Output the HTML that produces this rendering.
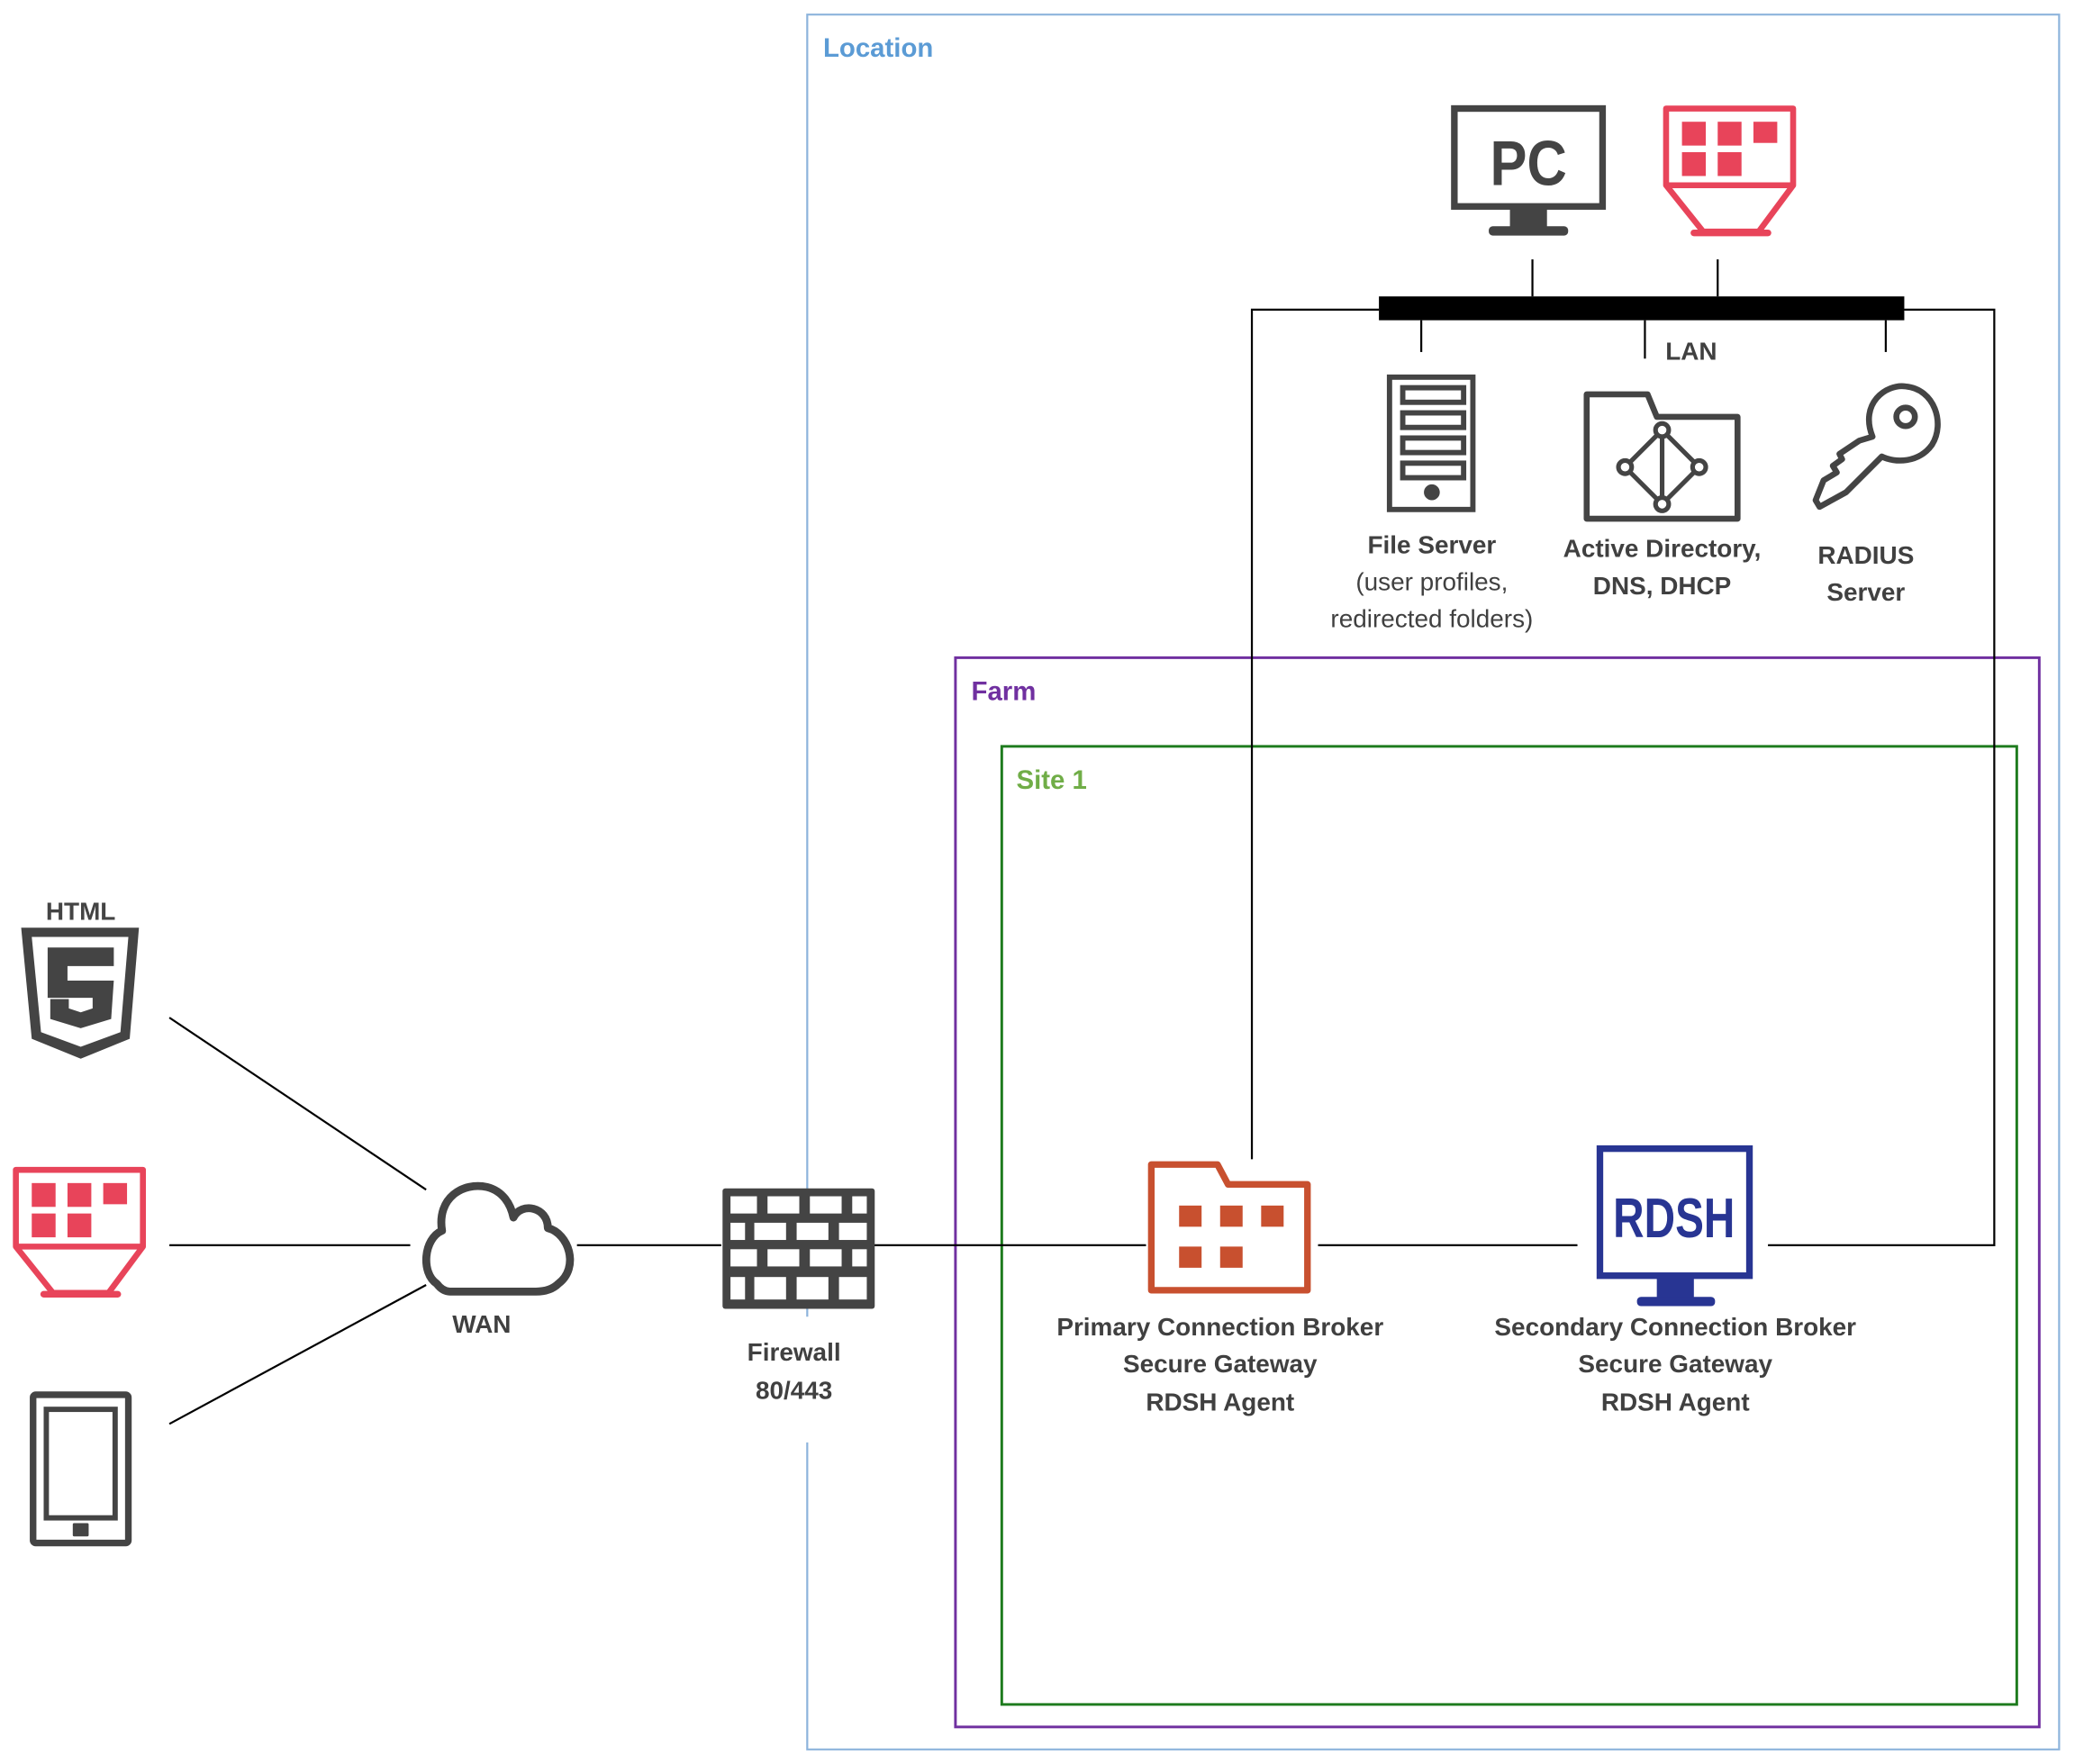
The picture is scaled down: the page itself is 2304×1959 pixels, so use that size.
<!DOCTYPE html>
<html><head><meta charset="utf-8"><style>
html,body{margin:0;padding:0;background:#fff;}
svg{display:block;}
text{font-family:"Liberation Sans",sans-serif;fill:#404040;}
.b{font-weight:bold;font-size:19px;}
.n{font-size:19px;}
</style></head><body>
<svg width="2304" height="1959" viewBox="0 0 1568 1333" preserveAspectRatio="none" xmlns="http://www.w3.org/2000/svg">
<defs>
<g id="tc">
<path d="M2,2 H98 V60 L72,95 H30 L2,60 Z" fill="none" stroke="#e8445a" stroke-width="4.5" stroke-linejoin="round"/>
<line x1="2" y1="60" x2="98" y2="60" stroke="#e8445a" stroke-width="4.5"/>
<line x1="23" y1="96" x2="79" y2="96" stroke="#e8445a" stroke-width="5" stroke-linecap="round"/>
<rect x="14" y="12" width="18" height="18" fill="#e8445a"/>
<rect x="41" y="12" width="18" height="18" fill="#e8445a"/>
<rect x="68" y="12" width="18" height="16" fill="#e8445a"/>
<rect x="14" y="35" width="18" height="18" fill="#e8445a"/>
<rect x="41" y="35" width="18" height="18" fill="#e8445a"/>
</g>
</defs>
<rect width="1568" height="1333" fill="#fff"/>
<path d="M610,995 V11 H1556 V1322 H610 V1090" fill="none" stroke="#8db4dc" stroke-width="1.5"/>
<text x="622" y="43" class="b" style="fill:#5b9bd5;font-size:20px">Location</text>
<rect x="722" y="497" width="819" height="808" fill="none" stroke="#7030a0" stroke-width="2"/>
<text x="734" y="529" class="b" style="fill:#7030a0;font-size:20px">Farm</text>
<rect x="757" y="564" width="767" height="724" fill="none" stroke="#1e7b1e" stroke-width="2"/>
<text x="768" y="596" class="b" style="fill:#70ad47;font-size:20px">Site 1</text>

<rect x="1042" y="224" width="397" height="18" fill="#000"/>
<g stroke="#000" stroke-width="1.5" fill="none">
<line x1="1158" y1="196" x2="1158" y2="224"/>
<line x1="1298" y1="196" x2="1298" y2="224"/>
<line x1="1074" y1="242" x2="1074" y2="266"/>
<line x1="1243" y1="242" x2="1243" y2="271"/>
<line x1="1425" y1="242" x2="1425" y2="266"/>
<polyline points="1042,234 946,234 946,876"/>
<polyline points="1439,234 1507,234 1507,941 1336,941"/>
<line x1="128" y1="769" x2="322" y2="899"/>
<line x1="128" y1="941" x2="310" y2="941"/>
<line x1="128" y1="1076" x2="322" y2="971"/>
<line x1="436" y1="941" x2="545" y2="941"/>
<line x1="660" y1="941" x2="866" y2="941"/>
<line x1="996" y1="941" x2="1192" y2="941"/>
</g>
<text x="1278" y="272" class="b" text-anchor="middle">LAN</text>

<rect x="1099" y="82" width="112" height="74" fill="none" stroke="#444" stroke-width="5"/>
<rect x="1141" y="156" width="28" height="16" fill="#444"/>
<rect x="1125" y="171" width="60" height="7" rx="3" fill="#444"/>
<text x="1155" y="140" text-anchor="middle" textLength="58" lengthAdjust="spacingAndGlyphs" style="font-weight:bold;font-size:48px;fill:#444;font-family:'Liberation Sans Narrow','Liberation Sans',sans-serif">PC</text>

<use href="#tc" x="1257" y="80"/>

<rect x="1050" y="285" width="63" height="100" fill="none" stroke="#444" stroke-width="4"/>
<g fill="none" stroke="#444" stroke-width="4">
<rect x="1060" y="293" width="46" height="11"/><rect x="1060" y="312" width="46" height="11"/>
<rect x="1060" y="331" width="46" height="11"/><rect x="1060" y="350" width="46" height="11"/>
</g>
<circle cx="1082" cy="372" r="6" fill="#444"/>
<text x="1082" y="418" class="b" text-anchor="middle">File Server</text>
<text x="1082" y="446" class="n" text-anchor="middle">(user profiles,</text>
<text x="1082" y="474" class="n" text-anchor="middle">redirected folders)</text>

<path d="M1199,298 H1245 L1252,315 H1313 V392 H1199 Z" fill="none" stroke="#444" stroke-width="4.5" stroke-linejoin="round"/>
<g fill="none" stroke="#444" stroke-width="3.5">
<path d="M1256,325 L1228,353 L1256,381 L1284,353 Z M1256,325 V381"/>
</g>
<g fill="#fff" stroke="#444" stroke-width="3.5">
<circle cx="1256" cy="325" r="5"/><circle cx="1228" cy="353" r="5"/><circle cx="1284" cy="353" r="5"/><circle cx="1256" cy="381" r="5"/>
</g>
<text x="1256" y="421" class="b" text-anchor="middle">Active Directory,</text>
<text x="1256" y="449" class="b" text-anchor="middle">DNS, DHCP</text>

<g fill="none" stroke="#444" stroke-width="4.5" stroke-linejoin="round">
<path d="M1415,330 C1405,305 1425,290 1440,292 C1462,294 1470,320 1460,336 C1450,350 1432,350 1422,345 L1395,372 L1375,383 L1372,378 L1378,363 L1388,357 L1385,352 L1392,347 L1390,343 L1405,333 Z"/>
<circle cx="1440" cy="315" r="7"/>
</g>
<text x="1410" y="426" class="b" text-anchor="middle">RADIUS</text>
<text x="1410" y="454" class="b" text-anchor="middle">Server</text>

<text x="61" y="695" text-anchor="middle" style="font-weight:bold;font-size:19px;fill:#444">HTML</text>
<path d="M16,701 H105 L98,785 L61,800 L24,785 Z" fill="#444"/>
<path d="M24,708 H97 L91,780 L61,791 L31,780 Z" fill="#fff"/>
<path d="M36,716 H86 V730 H51 V741 H86 L84,770 L61,777 L38,770 V755 H52 V762 L61,765 L70,762 V754 H36 Z" fill="#444"/>

<use href="#tc" x="10" y="882"/>

<rect x="25" y="1054" width="72" height="112" rx="2" fill="none" stroke="#444" stroke-width="5"/>
<rect x="35" y="1065" width="52" height="82" fill="none" stroke="#444" stroke-width="4"/>
<rect x="55" y="1151" width="12" height="10" rx="1" fill="#444"/>

<path d="M330,970 C318,962 320,936 334,930 C330,905 350,893 368,897 C380,900 386,910 388,920 C394,908 414,912 414,928 C430,932 438,958 422,970 C418,974 412,976 405,976 H340 C336,976 333,974 330,970 Z" fill="none" stroke="#444" stroke-width="6" stroke-linejoin="round"/>
<text x="364" y="1007" class="b" text-anchor="middle">WAN</text>

<rect x="546" y="898" width="115" height="91" fill="#444" rx="2"/>
<g fill="#fff">
<rect x="552" y="904" width="20" height="13"/><rect x="580" y="904" width="24" height="13"/><rect x="612" y="904" width="24" height="13"/><rect x="644" y="904" width="11" height="13"/>
<rect x="552" y="924" width="11" height="13"/><rect x="570" y="924" width="24" height="13"/><rect x="602" y="924" width="24" height="13"/><rect x="634" y="924" width="21" height="13"/>
<rect x="552" y="944" width="20" height="13"/><rect x="580" y="944" width="24" height="13"/><rect x="612" y="944" width="24" height="13"/><rect x="644" y="944" width="11" height="13"/>
<rect x="552" y="965" width="11" height="17"/><rect x="570" y="965" width="24" height="17"/><rect x="602" y="965" width="24" height="17"/><rect x="634" y="965" width="21" height="17"/>
</g>
<text x="600" y="1028" class="b" text-anchor="middle">Firewall</text>
<text x="600" y="1057" class="b" text-anchor="middle">80/443</text>

<path d="M870,880 H920 L928,895 H988 V975 H870 Z" fill="none" stroke="#c8502f" stroke-width="5" stroke-linejoin="round"/>
<g fill="#c8502f">
<rect x="891" y="911" width="17" height="16"/><rect x="922" y="911" width="17" height="16"/><rect x="953" y="911" width="17" height="16"/>
<rect x="891" y="942" width="17" height="16"/><rect x="922" y="942" width="17" height="16"/>
</g>
<text x="922" y="1009" class="b" text-anchor="middle">Primary Connection Broker</text>
<text x="922" y="1037" class="b" text-anchor="middle">Secure Gateway</text>
<text x="922" y="1066" class="b" text-anchor="middle">RDSH Agent</text>

<rect x="1209" y="868" width="113" height="96" fill="none" stroke="#283593" stroke-width="5"/>
<rect x="1252" y="964" width="28" height="17" fill="#283593"/>
<rect x="1237" y="980" width="59" height="7" rx="3" fill="#283593"/>
<text x="1265" y="935" text-anchor="middle" textLength="92" lengthAdjust="spacingAndGlyphs" style="font-weight:bold;font-size:42px;fill:#283593;font-family:'Liberation Sans Narrow','Liberation Sans',sans-serif">RDSH</text>
<text x="1266" y="1009" class="b" text-anchor="middle">Secondary Connection Broker</text>
<text x="1266" y="1037" class="b" text-anchor="middle">Secure Gateway</text>
<text x="1266" y="1066" class="b" text-anchor="middle">RDSH Agent</text>
</svg>
</body></html>
